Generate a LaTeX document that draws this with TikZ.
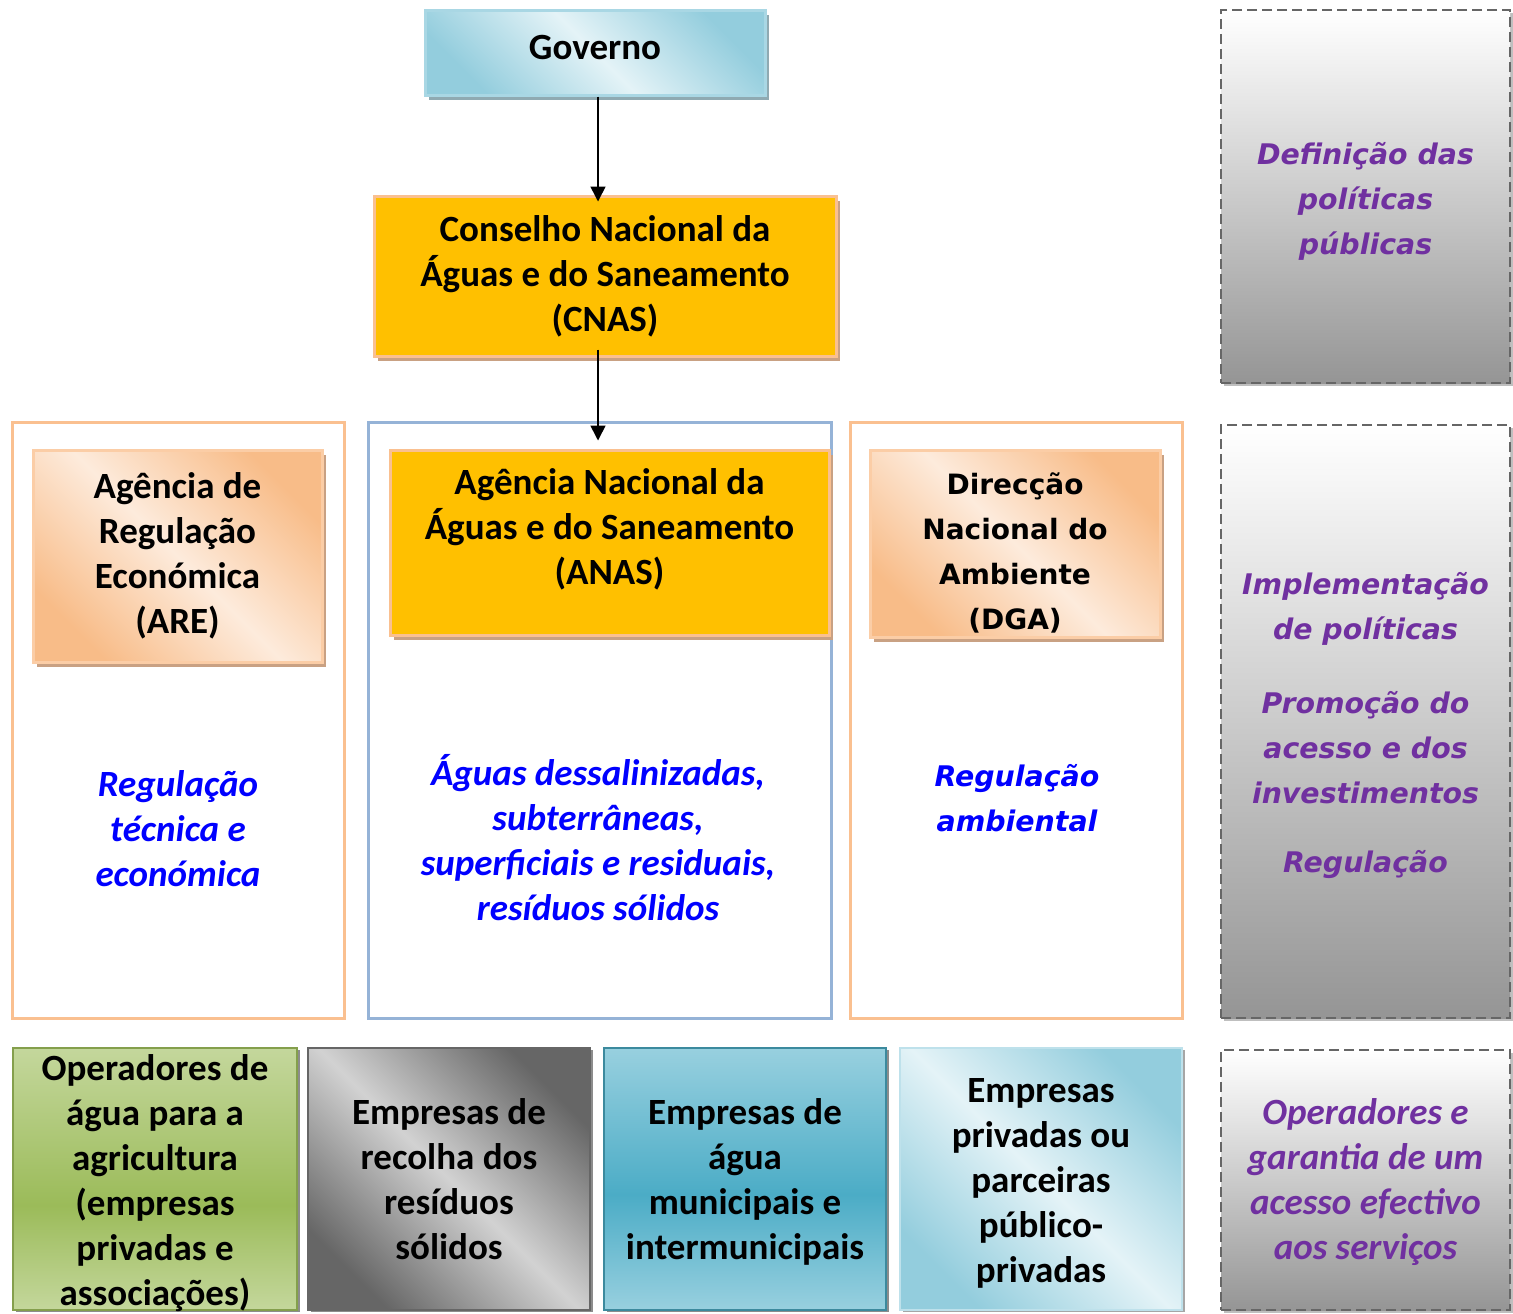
\documentclass[tikz,border=0pt]{standalone}
\usepackage{fontspec}
\setmainfont{Carlito}
\newfontfamily\vfont{DejaVu Sans}[BoldFont=DejaVu Sans Bold, ItalicFont=DejaVu Sans Oblique, BoldItalicFont=DejaVu Sans Bold Oblique]
\usetikzlibrary{shadows,arrows.meta}
\definecolor{gblL}{HTML}{E4F3F7}
\definecolor{gblD}{HTML}{93CDDD}
\definecolor{orL}{HTML}{FDEBDC}
\definecolor{orD}{HTML}{F8BC88}
\definecolor{grL}{HTML}{D2D2D2}
\definecolor{grD}{HTML}{666666}
\definecolor{cnasY}{HTML}{FFC000}
\definecolor{orBorder}{HTML}{FAC090}
\definecolor{blBorder}{HTML}{95B3D7}
\definecolor{purp}{HTML}{7030A0}
\definecolor{shBr}{HTML}{C9A183}
\definecolor{shBl}{HTML}{8FAAB2}
\definecolor{grnL}{HTML}{C4D79C}
\definecolor{grnD}{HTML}{9BBB59}
\definecolor{mbL}{HTML}{98D0DF}
\definecolor{mbD}{HTML}{4BACC6}
\definecolor{dashC}{HTML}{666666}
\definecolor{dashG}{HTML}{959595}
\pgfdeclarehorizontalshading{sadBlue}{100bp}{color(0bp)=(gblD); color(25bp)=(gblD); color(50bp)=(gblL); color(75bp)=(gblD); color(100bp)=(gblD)}
\pgfdeclarehorizontalshading{sadOrange}{100bp}{color(0bp)=(orD); color(25bp)=(orD); color(50bp)=(orL); color(75bp)=(orD); color(100bp)=(orD)}
\pgfdeclarehorizontalshading{sadGray}{100bp}{color(0bp)=(grD); color(25bp)=(grD); color(50bp)=(grL); color(75bp)=(grD); color(100bp)=(grD)}
\pgfdeclareverticalshading{vGreen}{100bp}{color(0bp)=(grnL); color(25bp)=(grnL); color(45bp)=(grnD); color(75bp)=(grnL); color(100bp)=(grnL)}
\pgfdeclareverticalshading{vBlue}{100bp}{color(0bp)=(mbL); color(25bp)=(mbL); color(47bp)=(mbD); color(75bp)=(mbL); color(100bp)=(mbL)}
\pgfdeclareverticalshading{vDash}{100bp}{color(0bp)=(dashG); color(25bp)=(dashG); color(62bp)=(white!75!dashG); color(75bp)=(white); color(100bp)=(white)}
\tikzset{
  cal/.style={font=\bfseries\fontsize{18.5pt}{22.5pt}\selectfont, align=center},
  calit/.style={font=\bfseries\itshape\fontsize{18.5pt}{22.5pt}\selectfont, align=center},
  ver/.style={font=\vfont\bfseries\fontsize{14pt}{22.5pt}\selectfont, align=center},
  verit/.style={font=\vfont\bfseries\itshape\fontsize{14.2pt}{22.5pt}\selectfont, align=center},
  box/.style={rectangle, inner sep=0pt, line width=1.5pt},
  shad/.style={drop shadow={shadow xshift=2pt, shadow yshift=-2.5pt, fill=#1, opacity=1}},
  bshad/.style={drop shadow={shadow xshift=1.5pt, shadow yshift=-1pt, fill=#1, opacity=1}},
  container/.style={box, draw=#1, fill=white},
  dashbox/.style={box, draw=dashC, line width=1pt, dash pattern=on 5pt off 2.5pt, shading=vDash,
     drop shadow={shadow xshift=1.5pt, shadow yshift=-1.5pt, fill=black!25, opacity=1}},
  arr/.style={line width=0.8pt, -{Triangle[length=7.5pt,width=7.5pt]}},
}
\begin{document}
\begin{tikzpicture}[x=0.5pt, y=-0.5pt]
\useasboundingbox (0,0) rectangle (1513,1313);

% right column dashed boxes
\node[dashbox, minimum width=144.5pt, minimum height=186.5pt] (d1) at (1365.5,196.5) {};
\node[dashbox, minimum width=144.5pt, minimum height=296.5pt] (d2) at (1365.5,721.5) {};
\node[dashbox, minimum width=144.5pt, minimum height=130pt] (d3) at (1365.5,1180) {};
\node[verit, text=purp] (d1t) at (1365.5,201.5) {Definição das\\políticas\\públicas};
\node[verit, text=purp] (d2a) at (1365.5,609) {Implementação\\de políticas};
\node[verit, text=purp] (d2b) at (1365.5,748) {Promoção do\\acesso e dos\\investimentos};
\node[verit, text=purp] (d2c) at (1365.5,864) {Regulação};
\node[calit, text=purp] (d3t) at (1365.5,1182.5) {Operadores e\\garantia de um\\acesso efectivo\\aos serviços};

% Governo
\node[box, shad=shBl, draw=gblD!80, shading=sadBlue, shading angle=45, minimum width=170pt, minimum height=42.5pt, cal] (gov) at (595,52.5) {\raisebox{5pt}{Governo}};

% CNAS
\node[box, shad=shBr, draw=orBorder, fill=cnasY, minimum width=231pt, minimum height=80pt, cal] (cnas) at (605,276) {Conselho Nacional da\\Águas e do Saneamento\\(CNAS)};

% containers
\node[container=orBorder, minimum width=166pt, minimum height=298pt] (cl) at (178,720) {};
\node[container=blBorder, minimum width=231.5pt, minimum height=298pt] (cm) at (599.5,720) {};
\node[container=orBorder, minimum width=166pt, minimum height=298pt] (cr) at (1016,720) {};

% agency boxes
\node[box, shad=shBr, draw=orBorder!80, shading=sadOrange, shading angle=45, minimum width=144.5pt, minimum height=106pt, cal] (are) at (177.5,556) {Agência de\\Regulação\\Económica\\(ARE)};
\node[box, shad=shBr, draw=orBorder, fill=cnasY, minimum width=219.5pt, minimum height=92.5pt] (anas) at (609.5,542.5) {};
\node[cal] (anast) at (609.5,529) {Agência Nacional da\\Águas e do Saneamento\\(ANAS)};
\node[box, shad=shBr, draw=orBorder!80, shading=sadOrange, shading angle=45, minimum width=145pt, minimum height=93.5pt] (dga) at (1015,543.5) {};
\node[ver] (dgat) at (1015,553) {Direcção\\Nacional do\\Ambiente\\(DGA)};

% container texts
\node[calit, text=blue] (clt) at (178,829) {Regulação\\técnica e\\económica};
\node[calit, text=blue] (cmt) at (598,838) {Águas dessalinizadas,\\subterrâneas,\\superficiais e residuais,\\resíduos sólidos};
\node[verit, text=blue] (crt) at (1017,798) {Regulação\\ambiental};

% arrows
\draw[arr] ([xshift=1.5pt]gov.south) -- ([xshift=-3.5pt,yshift=-3.5pt]cnas.north);
\draw[arr] ([xshift=-3.5pt,yshift=4pt]cnas.south) -- ([xshift=-5.75pt,yshift=4pt]anas.north);

% bottom row
\node[box, draw=grnD!85!black, line width=1pt, shading=vGreen, minimum width=142pt, minimum height=131pt, bshad=black!45] (b1) at (155,1179) {};
\node[cal] (b1t) at (155,1183) {Operadores de\\água para a\\agricultura\\(empresas\\privadas e\\associações)};
\node[box, draw=grD, line width=1pt, shading=sadGray, shading angle=45, minimum width=141pt, minimum height=131pt, cal, bshad=black!45] (b2) at (449,1179) {Empresas de\\recolha dos\\resíduos\\sólidos};
\node[box, draw=mbD!80!black, line width=1pt, shading=vBlue, minimum width=141pt, minimum height=131pt, bshad=black!45] (b3) at (745,1179) {};
\node[cal] (b3t) at (745,1182) {Empresas de\\água\\municipais e\\intermunicipais};
\node[box, draw=gblD!60, line width=1pt, shading=sadBlue, shading angle=45, minimum width=141pt, minimum height=131pt, bshad=black!35] (b4) at (1041,1179) {};
\node[cal] (b4t) at (1041,1183) {Empresas\\privadas ou\\parceiras\\público-\\privadas};
\end{tikzpicture}
\end{document}
